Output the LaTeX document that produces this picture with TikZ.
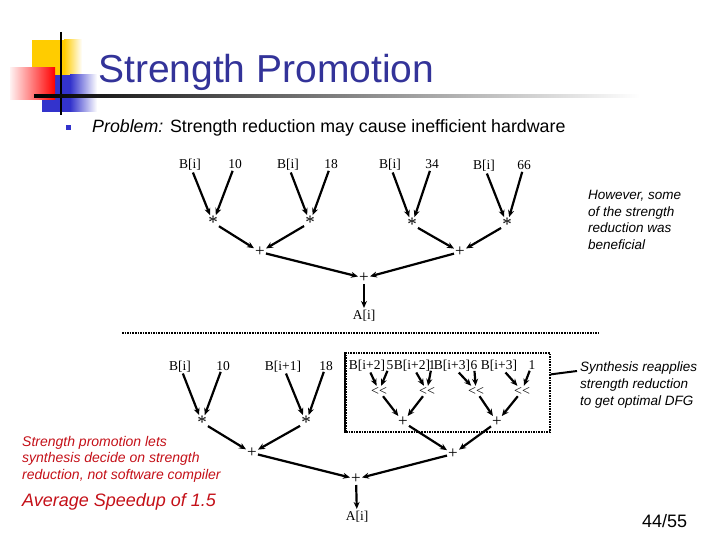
\documentclass[tikz,border=0pt]{standalone}
\usepackage{fontspec}
\setmainfont{Liberation Serif}
\newfontfamily\slidefont{Liberation Sans}
\usepackage{xcolor}
\usetikzlibrary{arrows.meta,positioning,calc}
\definecolor{titleblue}{RGB}{51,51,153}
\definecolor{notered}{RGB}{196,16,24}
\definecolor{logoyellow}{RGB}{255,204,0}
\definecolor{logoblue}{RGB}{51,51,204}

\begin{document}
\begin{tikzpicture}[x=1pt,y=-1pt,>={Stealth[length=7pt,width=6pt]},
  lab/.style={font=\fontsize{13.5}{15}\selectfont,inner sep=1.5pt,anchor=base},
  op/.style={font=\fontsize{17}{19}\selectfont,inner sep=1pt},
  mul/.style={op,font=\fontsize{19}{21}\selectfont,yshift=-2.5pt},
  shl/.style={font=\fontsize{14}{16}\selectfont,inner sep=1pt},
  dfg/.style={->,line width=2.2pt},
  dots/.style={line width=1.6pt,dash pattern=on 1.6pt off 1pt},
  note/.style={font=\slidefont\itshape\fontsize{13.5}{16.6}\selectfont,align=left,anchor=north west,inner sep=0pt}]
\useasboundingbox (0,0) rectangle (720,540);
% logo
\fill[logoyellow] (32,40) rectangle (64,92);
\shade[left color=logoyellow,right color=white] (64,40) rectangle (82,92);
\fill[logoblue] (42,75) rectangle (70,112);
\shade[left color=logoblue,right color=white] (70,75) rectangle (97,112);
\shade[left color=red!5,right color=red] (10,68) rectangle (55,100);
\draw[line width=2.5pt] (61,32) -- (61,115);
\shade[left color=black,right color=white] (34,94.8) rectangle (640,97.6);
% title
\node[font=\slidefont\fontsize{39}{44}\selectfont,text=titleblue,anchor=base west,inner sep=0pt] (title) at (98,83) {Strength Promotion};
\node[fill=logoblue,minimum size=5pt,inner sep=0pt] (bullet) at (68,128) {};
\node[font=\slidefont\fontsize{17.8}{20}\selectfont,anchor=base west,inner sep=0pt] (problem) at (92,133) {\textit{Problem:} Strength reduction may cause inefficient hardware};
% original DFG
\node[lab] (b1) at (190,169) {B[i]};
\node[lab] (c1) at (235,169) {10};
\node[lab] (b2) at (288,169) {B[i]};
\node[lab] (c2) at (331,169) {18};
\node[lab] (b3) at (390,169) {B[i]};
\node[lab] (c3) at (432,169) {34};
\node[lab] (b4) at (484,170) {B[i]};
\node[lab] (c4) at (524,170) {66};
\node[mul] (m1) at (213,220) {*};
\node[mul] (m2) at (310,220) {*};
\node[mul] (m3) at (412,222) {*};
\node[mul] (m4) at (507,222) {*};
\node[op] (s1) at (260,252) {+};
\node[op] (s2) at (460,252) {+};
\node[op] (s0) at (364,278) {+};
\node[lab] (out) at (364,319) {A[i]};
\draw[dfg] (b1) -- (m1); \draw[dfg] (c1) -- (m1);
\draw[dfg] (b2) -- (m2); \draw[dfg] (c2) -- (m2);
\draw[dfg] (b3) -- (m3); \draw[dfg] (c3) -- (m3);
\draw[dfg] (b4) -- (m4); \draw[dfg] (c4) -- (m4);
\draw[dfg] (m1) -- (s1); \draw[dfg] (m2) -- (s1);
\draw[dfg] (m3) -- (s2); \draw[dfg] (m4) -- (s2);
\draw[dfg] (s1) -- (s0); \draw[dfg] (s2) -- (s0);
\draw[dfg] (s0) -- (out);
\node[note] (benefit) at (588,190) {However, some\\of the strength\\reduction was\\beneficial};
\draw[dots] (122,333) -- (598,333);
% promoted DFG
\node[draw,dots,minimum width=204pt,minimum height=79pt,inner sep=0pt] (shbox) at (448,392.5) {};
\draw[line width=1.6pt] (shbox.north west) -- (shbox.south west);
\node[lab] (lb1) at (180,370) {B[i]};
\node[lab] (lc1) at (223,370) {10};
\node[lab] (lb2) at (283,370) {B[i+1]};
\node[lab] (lc2) at (326,370) {18};
\node[lab] (sb1) at (367,369) {B[i+2]};
\node[lab] (sc1) at (390,369) {5};
\node[lab] (sb2) at (412,369) {B[i+2]};
\node[lab] (sc2) at (432,369) {1};
\node[lab] (sb3) at (452,369) {B[i+3]};
\node[lab] (sc3) at (474,369) {6};
\node[lab] (sb4) at (499,369) {B[i+3]};
\node[lab] (sc4) at (532,369) {1};
\node[mul] (lm1) at (202,420) {*};
\node[mul] (lm2) at (306,420) {*};
\node[shl] (sh1) at (379,391) {<{}<};
\node[shl] (sh2) at (427,391) {<{}<};
\node[shl] (sh3) at (476,391) {<{}<};
\node[shl] (sh4) at (522,391) {<{}<};
\node[op] (sp1) at (403,422) {+};
\node[op] (sp2) at (497,422) {+};
\node[op] (ls1) at (252,453) {+};
\node[op] (ls2) at (453,454) {+};
\node[op] (ls0) at (356,479) {+};
\node[lab] (lout) at (357,520) {A[i]};
\draw[dfg] (lb1) -- (lm1); \draw[dfg] (lc1) -- (lm1);
\draw[dfg] (lb2) -- (lm2); \draw[dfg] (lc2) -- (lm2);
\draw[dfg] (sb1) -- (sh1); \draw[dfg] (sc1) -- (sh1);
\draw[dfg] (sb2) -- (sh2); \draw[dfg] (sc2) -- (sh2);
\draw[dfg] (sb3) -- (sh3); \draw[dfg] (sc3) -- (sh3);
\draw[dfg] (sb4) -- (sh4); \draw[dfg] (sc4) -- (sh4);
\draw[dfg] (sh1) -- (sp1); \draw[dfg] (sh2) -- (sp1);
\draw[dfg] (sh3) -- (sp2); \draw[dfg] (sh4) -- (sp2);
\draw[dfg] (lm1) -- (ls1); \draw[dfg] (lm2) -- (ls1);
\draw[dfg] (sp1) -- (ls2); \draw[dfg] (sp2) -- (ls2);
\draw[dfg] (ls1) -- (ls0); \draw[dfg] (ls2) -- (ls0);
\draw[dfg] (ls0) -- (lout);
\node[note] (synth) at (580,362) {Synthesis reapplies\\strength reduction\\to get optimal DFG};
\coordinate (synthtip) at (577,371);
\draw[line width=2pt] (shbox.10) -- (synthtip);
\node[note,text=notered,font=\slidefont\itshape\fontsize{14}{16.6}\selectfont] (promo) at (22,436) {Strength promotion lets\\synthesis decide on strength\\reduction, not software compiler};
\node[note,text=notered,anchor=base west,font=\slidefont\itshape\fontsize{18}{20}\selectfont] (speedup) at (22,506) {Average Speedup of 1.5};
\node[font=\slidefont\fontsize{18}{20}\selectfont,anchor=base west,inner sep=0pt] (page) at (642,527) {44/55};
\end{tikzpicture}
\end{document}
